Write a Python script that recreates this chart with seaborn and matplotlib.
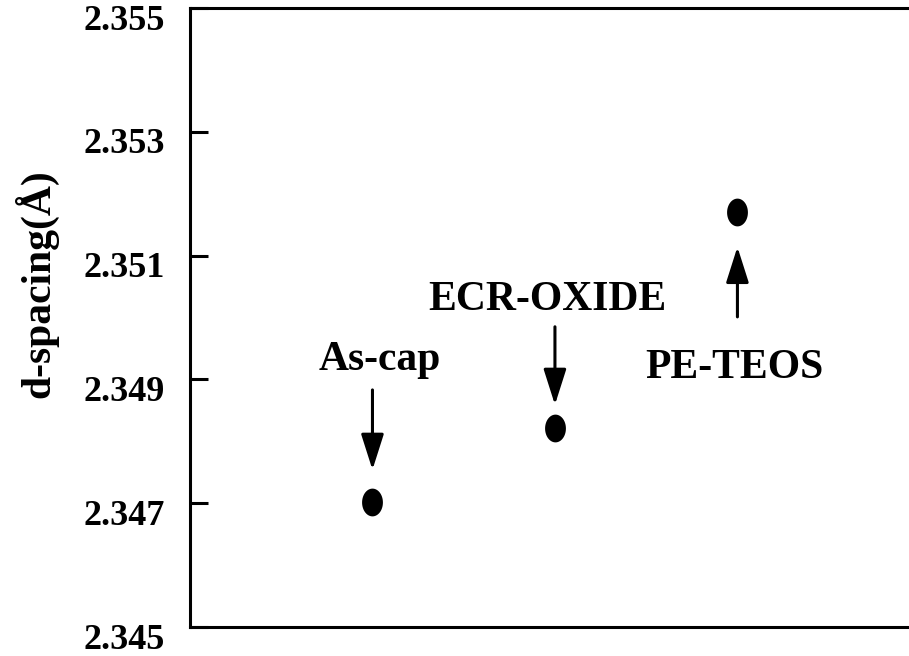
import matplotlib
matplotlib.use("Agg")
import matplotlib.pyplot as plt
import matplotlib.transforms as mtransforms
from matplotlib.path import Path
import numpy as np
import pandas as pd
import seaborn as sns

# ---- data ----
samples = ["As-cap", "ECR-OXIDE", "PE-TEOS"]
sample_pos = [1, 2, 3]
d_spacing = [2.34702, 2.34821, 2.35170]
arrow_start = [2.34883, 2.34985, 2.35001]
arrow_end = [2.34754, 2.34859, 2.35114]
label_x = [1.041, 1.956, 2.986]
label_y = [2.34915, 2.35012, 2.34902]
yticks = [2.345, 2.347, 2.349, 2.351, 2.353, 2.355]
ytick_labels = ["2.345", "2.347", "2.349", "2.351", "2.353", "2.355"]

sns.set_theme(style="white")
plt.rcParams['font.family'] = ['Liberation Serif', 'DejaVu Serif']
plt.rcParams['font.weight'] = 'bold'
plt.rcParams['text.color'] = 'black'
plt.rcParams['axes.labelcolor'] = 'black'
plt.rcParams['ytick.color'] = 'black'

fig = plt.figure(figsize=(9.09, 6.56), dpi=100)
ax = fig.add_axes([0.209, 0.0442, 0.803, 0.9436])

df = pd.DataFrame({"x": sample_pos, "y": d_spacing, "sample": samples})

# slightly tall ellipse marker
t = np.linspace(0, 2 * np.pi, 60)
ell = Path(np.column_stack([0.75 * np.cos(t), np.sin(t)]), closed=True)
sns.scatterplot(data=df, x="x", y="y", ax=ax, marker=ell, s=400,
                color="black", edgecolor="black", linewidth=0, legend=False, zorder=3)

for xs, y0, y1, lx, ly, name in zip(sample_pos, arrow_start, arrow_end, label_x, label_y, samples):
    ax.annotate("", xy=(xs, y1), xytext=(xs, y0),
                arrowprops=dict(arrowstyle="-|>,head_length=22,head_width=7",
                                mutation_scale=1, lw=2.2, color="black",
                                shrinkA=0, shrinkB=0))
    ax.text(lx, ly, name, ha="center", va="baseline", fontsize=30,
            fontweight="bold", color="black")

ax.set_xlim(0, 4)
ax.set_ylim(2.345, 2.355)
ax.set_xticks([])
ax.set_yticks(yticks)
ax.set_yticklabels(ytick_labels, fontsize=26, fontweight="bold", color="black")
ax.tick_params(axis="y", direction="in", length=13, width=2.2, pad=18, left=True,
               colors="black")
offset = mtransforms.ScaledTranslation(0, -9 / 100, fig.dpi_scale_trans)
for lab in ax.get_yticklabels():
    lab.set_transform(lab.get_transform() + offset)

ax.set_xlabel("")
ax.set_ylabel("d-spacing(Å)", fontsize=30, fontweight="bold", va="center", color="black")
ax.yaxis.set_label_coords(-0.211, 0.554)

for side in ["left", "top", "bottom"]:
    ax.spines[side].set_linewidth(2.2)
    ax.spines[side].set_color("black")
ax.spines["right"].set_visible(False)

fig.savefig("out.png", dpi=100)
